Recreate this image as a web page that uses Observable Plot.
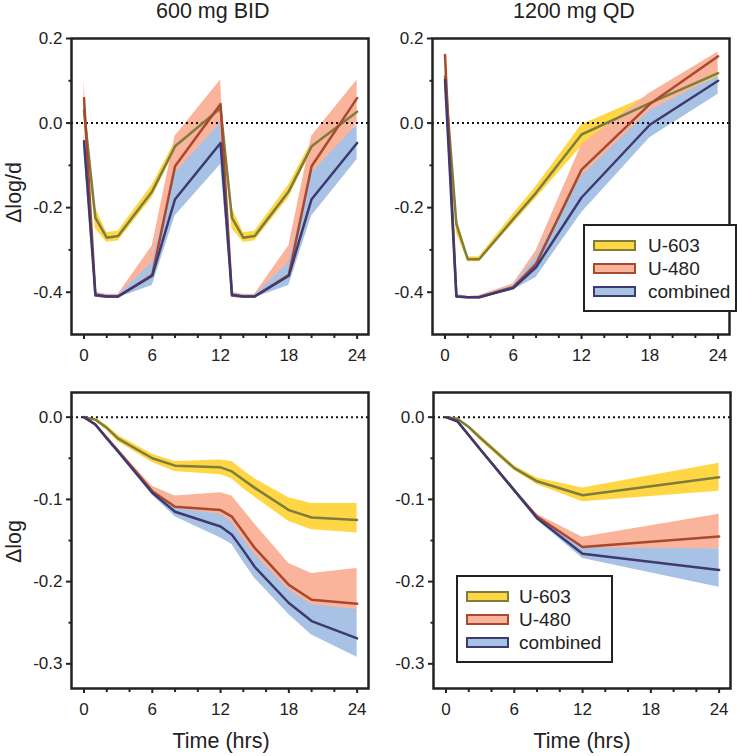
<!DOCTYPE html>
<html>
<head>
<meta charset="utf-8">
<script src="https://cdn.jsdelivr.net/npm/d3@7"></script>
<script src="https://cdn.jsdelivr.net/npm/@observablehq/plot@0.6"></script>
<style>
  body { margin: 0; background: #fff; }
  #root { position: relative; width: 742px; height: 756px; font-family: "Liberation Sans", Arial, sans-serif; color: #222; }
  #root svg { position: absolute; }
  .lbl { position: absolute; font-size: 21.5px; white-space: nowrap; color: #222; }
  .legend { position: absolute; background: #fff; border: 2px solid #222; box-sizing: border-box; }
  .legend .sw { position: absolute; width: 43px; height: 11px; box-sizing: border-box; border: 2px solid; }
  .legend .tx { position: absolute; font-size: 19px; line-height: 19px; }
</style>
</head>
<body>
<div id="root"></div>
<script>
// ---------- data ----------
const seriesNames = ["U-603", "U-480", "combined"];
const bandColors = ["#ffd744", "#f9b49b", "#a8c2e6"];
const lineColors = ["#7e7d3e", "#a8492f", "#3d3a70"];
const xTicks = [0, 6, 12, 18, 24];
const xMinorTicks = [2, 4, 8, 10, 14, 16, 20, 22];
const panelTitles = ["600 mg BID", "1200 mg QD"];

// Top-left: 600 mg BID, Δlog/d
const tBID = [0, 1, 2, 3, 6, 8, 12, 13, 14, 15, 18, 20, 24];
const bidRate_u603     = [0.030, -0.224, -0.271, -0.267, -0.161, -0.055, 0.035, -0.224, -0.271, -0.267, -0.161, -0.055, 0.027];
const bidRate_u603_lo  = [0.005, -0.250, -0.282, -0.279, -0.176, -0.066, 0.020, -0.250, -0.282, -0.279, -0.176, -0.066, 0.012];
const bidRate_u603_hi  = [0.055, -0.200, -0.259, -0.256, -0.146, -0.044, 0.050, -0.200, -0.259, -0.256, -0.146, -0.044, 0.042];
const bidRate_u480     = [0.059, -0.408, -0.410, -0.410, -0.359, -0.102, 0.045, -0.408, -0.410, -0.410, -0.359, -0.102, 0.059];
const bidRate_u480_lo  = [0.020, -0.412, -0.415, -0.413, -0.375, -0.165, -0.005, -0.412, -0.415, -0.413, -0.375, -0.165, 0.000];
const bidRate_u480_hi  = [0.102, -0.400, -0.405, -0.405, -0.290, -0.031, 0.102, -0.400, -0.405, -0.405, -0.290, -0.031, 0.102];
const bidRate_comb     = [-0.043, -0.406, -0.410, -0.410, -0.361, -0.180, -0.047, -0.406, -0.410, -0.410, -0.361, -0.180, -0.047];
const bidRate_comb_lo  = [-0.070, -0.410, -0.414, -0.413, -0.384, -0.220, -0.098, -0.410, -0.414, -0.413, -0.384, -0.220, -0.086];
const bidRate_comb_hi  = [-0.020, -0.402, -0.407, -0.407, -0.330, -0.118, 0.000, -0.402, -0.407, -0.407, -0.330, -0.118, -0.004];

// Top-right: 1200 mg QD, Δlog/d
const tQDrate = [0, 1, 2, 3, 6, 8, 12, 18, 24];
const qdRate_u603     = [0.110, -0.239, -0.322, -0.322, -0.227, -0.165, -0.027, 0.047, 0.118];
const qdRate_u603_lo  = [0.090, -0.260, -0.328, -0.328, -0.238, -0.178, -0.055, 0.030, 0.098];
const qdRate_u603_hi  = [0.130, -0.220, -0.316, -0.316, -0.215, -0.150, -0.004, 0.066, 0.133];
const qdRate_u480     = [0.161, -0.410, -0.412, -0.412, -0.388, -0.333, -0.110, 0.045, 0.158];
const qdRate_u480_lo  = [0.140, -0.413, -0.415, -0.415, -0.395, -0.345, -0.180, -0.010, 0.120];
const qdRate_u480_hi  = [0.170, -0.405, -0.410, -0.408, -0.380, -0.302, -0.051, 0.071, 0.168];
const qdRate_comb     = [0.102, -0.410, -0.412, -0.412, -0.390, -0.341, -0.176, -0.004, 0.100];
const qdRate_comb_lo  = [0.090, -0.413, -0.415, -0.415, -0.395, -0.365, -0.212, -0.035, 0.068];
const qdRate_comb_hi  = [0.110, -0.407, -0.410, -0.410, -0.385, -0.318, -0.125, 0.030, 0.111];

// Bottom-left: 600 mg BID, Δlog
const bidCum_u603     = [0, -0.003, -0.013, -0.026, -0.050, -0.059, -0.061, -0.066, -0.076, -0.086, -0.113, -0.122, -0.125];
const bidCum_u603_lo  = [0, -0.005, -0.016, -0.030, -0.055, -0.066, -0.070, -0.075, -0.087, -0.097, -0.127, -0.137, -0.141];
const bidCum_u603_hi  = [0, -0.001, -0.010, -0.022, -0.045, -0.054, -0.052, -0.054, -0.065, -0.075, -0.098, -0.105, -0.105];
const bidCum_u480     = [0, -0.009, -0.025, -0.041, -0.090, -0.109, -0.113, -0.121, -0.140, -0.159, -0.204, -0.222, -0.227];
const bidCum_u480_lo  = [0, -0.010, -0.026, -0.043, -0.093, -0.117, -0.125, -0.135, -0.158, -0.178, -0.225, -0.236, -0.238];
const bidCum_u480_hi  = [0, -0.008, -0.023, -0.039, -0.084, -0.096, -0.092, -0.096, -0.113, -0.130, -0.178, -0.190, -0.184];
const bidCum_comb     = [0, -0.009, -0.026, -0.042, -0.092, -0.115, -0.133, -0.143, -0.162, -0.182, -0.226, -0.248, -0.269];
const bidCum_comb_lo  = [0, -0.010, -0.027, -0.044, -0.095, -0.121, -0.147, -0.155, -0.176, -0.196, -0.240, -0.265, -0.292];
const bidCum_comb_hi  = [0, -0.008, -0.024, -0.040, -0.088, -0.111, -0.118, -0.128, -0.148, -0.167, -0.210, -0.228, -0.234];

// Bottom-right: 1200 mg QD, Δlog
const tQDcum = [0, 1, 2, 3, 6, 8, 12, 24];
const qdCum_u603     = [0, -0.002, -0.012, -0.025, -0.062, -0.078, -0.095, -0.073];
const qdCum_u603_lo  = [0, -0.003, -0.014, -0.028, -0.065, -0.082, -0.103, -0.090];
const qdCum_u603_hi  = [0, -0.001, -0.010, -0.022, -0.059, -0.074, -0.086, -0.056];
const qdCum_u480     = [0, -0.005, -0.022, -0.039, -0.089, -0.121, -0.158, -0.145];
const qdCum_u480_lo  = [0, -0.005, -0.023, -0.040, -0.090, -0.123, -0.165, -0.160];
const qdCum_u480_hi  = [0, -0.005, -0.021, -0.038, -0.088, -0.118, -0.146, -0.118];
const qdCum_comb     = [0, -0.005, -0.022, -0.039, -0.089, -0.123, -0.166, -0.186];
const qdCum_comb_lo  = [0, -0.005, -0.023, -0.040, -0.090, -0.125, -0.172, -0.207];
const qdCum_comb_hi  = [0, -0.005, -0.021, -0.038, -0.088, -0.121, -0.159, -0.160];

const rateYTicks = [0.2, 0, -0.2, -0.4];
const rateYMinor = [0.1, -0.1, -0.3];
const cumYTicks = [0, -0.1, -0.2, -0.3];
const cumYMinor = [-0.05, -0.15, -0.25];

// ---------- build ----------
function table(t, mid, lo, hi) {
  return t.map((x, i) => ({t: x, mid: mid[i], lo: lo[i], hi: hi[i]}));
}

function panel(opts) {
  const {sets, yDomain, yTicks, yMinor, ml, mr, mt, mb} = opts;
  const marks = [];
  sets.forEach((d, i) => marks.push(Plot.areaY(d, {x: "t", y1: "lo", y2: "hi", fill: bandColors[i]})));
  marks.push(Plot.ruleY([0], {stroke: "#111", strokeWidth: 2, strokeDasharray: "2,3"}));
  sets.forEach((d, i) => marks.push(Plot.lineY(d, {x: "t", y: "mid", stroke: lineColors[i], strokeWidth: 2.5})));
  marks.push(Plot.frame({stroke: "#222", strokeWidth: 2.5}));
  marks.push(Plot.axisX({ticks: xTicks, tickSize: 5, tickPadding: 9, tickFormat: d => String(d), label: null, strokeWidth: 2}));
  marks.push(Plot.axisX({ticks: xMinorTicks, tickSize: 4, tickFormat: () => "", label: null, strokeWidth: 2}));
  marks.push(Plot.axisY({ticks: yTicks, tickSize: 5, tickPadding: 4, tickFormat: d => d.toFixed(1), label: null, strokeWidth: 2}));
  marks.push(Plot.axisY({ticks: yMinor, tickSize: 2.5, tickFormat: () => "", label: null, strokeWidth: 2}));
  return Plot.plot({
    width: 371, height: 378,
    marginLeft: ml, marginRight: mr, marginTop: mt, marginBottom: mb,
    x: {domain: [-1.1, 25]},
    y: {domain: yDomain},
    style: {fontFamily: "Liberation Sans, Arial, sans-serif", fontSize: "17px", color: "#222", background: "transparent", overflow: "visible"},
    marks
  });
}

const root = document.getElementById("root");

function place(el, left, top) {
  el.style.left = left + "px";
  el.style.top = top + "px";
  root.appendChild(el);
}

place(panel({
  sets: [table(tBID, bidRate_u603, bidRate_u603_lo, bidRate_u603_hi),
         table(tBID, bidRate_u480, bidRate_u480_lo, bidRate_u480_hi),
         table(tBID, bidRate_comb, bidRate_comb_lo, bidRate_comb_hi)],
  yDomain: [-0.5, 0.2], yTicks: rateYTicks, yMinor: rateYMinor,
  ml: 71, mr: 3, mt: 38, mb: 44
}), 0, 0);

place(panel({
  sets: [table(tQDrate, qdRate_u603, qdRate_u603_lo, qdRate_u603_hi),
         table(tQDrate, qdRate_u480, qdRate_u480_lo, qdRate_u480_hi),
         table(tQDrate, qdRate_comb, qdRate_comb_lo, qdRate_comb_hi)],
  yDomain: [-0.5, 0.2], yTicks: rateYTicks, yMinor: rateYMinor,
  ml: 61, mr: 13, mt: 38, mb: 44
}), 371, 0);

place(panel({
  sets: [table(tBID, bidCum_u603, bidCum_u603_lo, bidCum_u603_hi),
         table(tBID, bidCum_u480, bidCum_u480_lo, bidCum_u480_hi),
         table(tBID, bidCum_comb, bidCum_comb_lo, bidCum_comb_hi)],
  yDomain: [-0.33, 0.03], yTicks: cumYTicks, yMinor: cumYMinor,
  ml: 71, mr: 3, mt: 14, mb: 68
}), 0, 378);

place(panel({
  sets: [table(tQDcum, qdCum_u603, qdCum_u603_lo, qdCum_u603_hi),
         table(tQDcum, qdCum_u480, qdCum_u480_lo, qdCum_u480_hi),
         table(tQDcum, qdCum_comb, qdCum_comb_lo, qdCum_comb_hi)],
  yDomain: [-0.33, 0.03], yTicks: cumYTicks, yMinor: cumYMinor,
  ml: 62, mr: 12, mt: 14, mb: 68
}), 371, 378);

// ---------- text ----------
function label(text, cx, baseline, rotate) {
  const d = document.createElement("div");
  d.className = "lbl";
  d.textContent = text;
  root.appendChild(d);
  const w = d.offsetWidth, h = d.offsetHeight;
  if (rotate) {
    d.style.left = (cx - w / 2) + "px";
    d.style.top = (baseline - h / 2) + "px";
    d.style.transform = "rotate(-90deg)";
  } else {
    d.style.left = (cx - w / 2) + "px";
    d.style.top = (baseline - h * 0.8) + "px";
  }
}
label(panelTitles[0], 213, 19);
label(panelTitles[1], 574, 19);
label("Time (hrs)", 221, 749);
label("Time (hrs)", 582, 749);
label("\u0394log/d", 14, 192, true);
label("\u0394log", 14, 541, true);

function legend(left, top, width, height, swLeft, txLeft) {
  const box = document.createElement("div");
  box.className = "legend";
  box.style.left = left + "px"; box.style.top = top + "px";
  box.style.width = width + "px"; box.style.height = height + "px";
  seriesNames.forEach((name, i) => {
    const cy = 21 + i * 23.4;
    const sw = document.createElement("div");
    sw.className = "sw";
    sw.style.left = (swLeft - 2) + "px"; sw.style.top = (cy - 5.5 - 2) + "px";
    sw.style.background = bandColors[i]; sw.style.borderColor = lineColors[i];
    box.appendChild(sw);
    const tx = document.createElement("div");
    tx.className = "tx";
    tx.textContent = name;
    tx.style.left = (txLeft - 2) + "px"; tx.style.top = (cy - 9.5 - 2) + "px";
    box.appendChild(tx);
  });
  root.appendChild(box);
}
legend(583, 224, 154, 88, 10, 65);
legend(456, 575, 157, 88, 10, 63);
</script>
</body>
</html>
